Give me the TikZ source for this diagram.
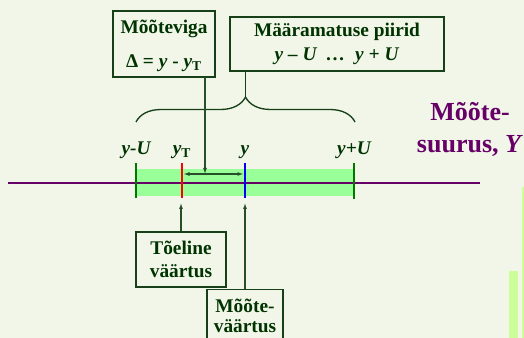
\documentclass[tikz,border=0pt]{standalone}
\usepackage{fontspec}
\setmainfont{Liberation Serif}
\usetikzlibrary{arrows.meta, positioning, decorations.pathreplacing, calc}
\definecolor{bgpale}{RGB}{241,246,233}
\definecolor{txtgreen}{RGB}{0,51,0}
\definecolor{boxgreen}{RGB}{24,64,24}
\definecolor{bandgreen}{RGB}{153,255,153}
\definecolor{axispurple}{RGB}{102,0,102}
\definecolor{ptrgreen}{RGB}{40,80,40}
\definecolor{barlime}{RGB}{204,255,153}
\definecolor{tickgreen}{RGB}{0,120,0}

\begin{document}
\begin{tikzpicture}[
  x=0.75pt, y=-0.75pt,
  infobox/.style={draw=boxgreen, line width=0.9pt, text=txtgreen, align=center,
    font=\bfseries\fontsize{14.5}{17}\selectfont, inner sep=0pt},
  ticklbl/.style={text=txtgreen, anchor=base, inner sep=0pt,
    font=\bfseries\itshape\fontsize{14.5}{17}\selectfont},
  tickmark/.style={line width=2.2pt},
  ptr/.style={draw=ptrgreen, line width=0.8pt, -{Latex[length=4.5pt,width=3pt]}},
  bracestyle/.style={draw=boxgreen, line width=1pt, decorate,
    decoration={brace, amplitude=18.75pt}}
]
% background and page size
\fill[bgpale] (0,0) rectangle (524,338);
\useasboundingbox (0,0) rectangle (524,338);
\fill[barlime] (522,187) rectangle (524,338);
\fill[barlime] (509,271) rectangle (518,338);

% uncertainty band and axis
\fill[bandgreen] (136,169) rectangle (354,196);
\draw[axispurple, line width=1.6pt] (8,183) -- (480,183);

% ticks
\coordinate (lowU) at (136,163);
\coordinate (trueY) at (182,163);
\coordinate (measY) at (245,163);
\coordinate (highU) at (354,163);
\draw[tickmark, tickgreen] (lowU) -- ++(0,35);
\draw[tickmark, red] (trueY) -- ++(0,35);
\draw[tickmark, blue] (measY) -- ++(0,35);
\draw[tickmark, tickgreen] (highU) -- ++(0,36);

% tick labels
\node[ticklbl] (lblLow) at (136,155) {y-U};
\node[ticklbl] (lblTrue) at (182,155) {y\textup{\textsubscript{T}}};
\node[ticklbl] (lblMeas) at (245,155) {y};
\node[ticklbl] (lblHigh) at (354,155) {y+U};

% boxes
\node[infobox, minimum width=76.5pt, minimum height=49.5pt] (viga) at (164,44) {};
\node[infobox, draw=none, anchor=center] (vigaText) at (164,46)
  {Mõõteviga\\[8.5pt]Δ = \textit{y} - \textit{y}\textsubscript{T}};
\node[infobox, minimum width=160.5pt, minimum height=40.5pt] (piirid) at (337,44)
  {Määramatuse piirid\\[1pt]\textit{y – U \ … \ y + U}};
\node[infobox, minimum width=67.5pt, minimum height=41.25pt] (toeline) at (181,259.5)
  {Tõeline\\väärtus};
\node[infobox, minimum width=57pt, minimum height=50pt, anchor=north] (mootevaartus) at (245,289) {};
\node[infobox, draw=none, font=\bfseries\fontsize{14.5}{15}\selectfont]
  (mootevaartusText) at (245,316) {Mõõte-\\väärtus};
\node[text=axispurple, align=center, font=\bfseries\fontsize{19.5}{24}\selectfont]
  (suurus) at (470,129) {Mõõte-\\suurus, \textit{Y}};

% brace for the uncertainty limits
\coordinate (braceL) at (136,122);
\coordinate (braceR) at (355,122);
\coordinate (braceTip) at (245.5,97);
\draw[bracestyle] (braceL) -- (braceR);
\draw[boxgreen, line width=1pt] (braceTip |- piirid.south) -- (braceTip);

% error: from y_T to y
\coordinate (errL) at (183.5,174);
\coordinate (errR) at (243.5,174);
\coordinate (vigaFoot) at (205,77);
\draw[ptr, {Latex[length=4.5pt,width=3pt]}-{Latex[length=4.5pt,width=3pt]}] (errL) -- (errR);
\draw[ptr] (vigaFoot) -- (vigaFoot |- errL);

% pointers to the values
\draw[ptr] (toeline.north) -- (181,203);
\draw[ptr] (mootevaartus.north) -- (245,203);
\end{tikzpicture}
\end{document}
